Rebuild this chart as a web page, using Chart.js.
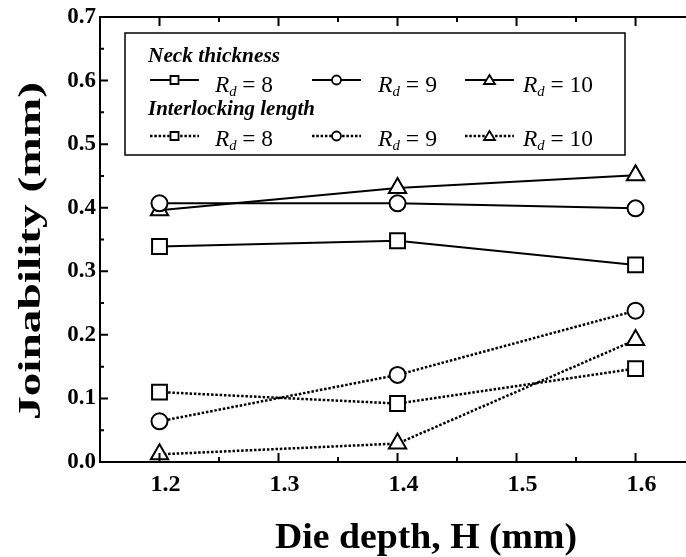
<!DOCTYPE html>
<html>
<head>
<meta charset="utf-8">
<script src="https://cdn.jsdelivr.net/npm/chart.js@4/dist/chart.umd.min.js"></script>
<style>
  html, body { margin: 0; padding: 0; background: #fff; }
  #wrap { width: 686px; height: 557px; }
</style>
</head>
<body>
<div id="wrap"><canvas id="chart" width="686" height="557"></canvas></div>
<script>
// ===== Joinability vs die depth =====

const depths = [1.2, 1.4, 1.6];
const neckRd8 = [0.339, 0.348, 0.310];
const neckRd9 = [0.407, 0.407, 0.399];
const neckRd10 = [0.396, 0.431, 0.451];
const interRd8 = [0.110, 0.092, 0.147];
const interRd9 = [0.064, 0.137, 0.238];
const interRd10 = [0.012, 0.029, 0.192];

const xTicks = [1.2, 1.3, 1.4, 1.5, 1.6];
const yTicks = [0.0, 0.1, 0.2, 0.3, 0.4, 0.5, 0.6, 0.7];
const rdLabels = ['8', '9', '10'];

const SERIF = "'Liberation Serif', 'Times New Roman', serif";
const DOTS = [2.5, 1.8];

function toPoints(values) {
    return depths.map((d, i) => ({ x: d, y: values[i] }));
}

function series(label, values, style, dashed) {
    return {
        label: label,
        data: toPoints(values),
        borderColor: '#000',
        borderWidth: dashed ? 2.5 : 2,
        borderDash: dashed ? DOTS : [],
        pointStyle: style,
        pointRadius: style === 'circle' ? 8 : (style === 'rect' ? 10.5 : 10),
        pointBorderWidth: 2,
        pointBackgroundColor: '#fff',
        pointBorderColor: '#000',
        tension: 0,
        fill: false
    };
}

// draw text squeezed/stretched to a given width
function fillFit(ctx, text, x, y, width) {
    const w = ctx.measureText(text).width;
    ctx.save();
    ctx.translate(x, y);
    ctx.scale(width / w, 1);
    ctx.fillText(text, 0, 0);
    ctx.restore();
}

function drawMarker(ctx, style, x, y) {
    ctx.save();
    ctx.beginPath();
    if (style === 'rect') {
        ctx.rect(x - 4, y - 4, 8, 8);
    } else if (style === 'circle') {
        ctx.arc(x, y, 4.5, 0, Math.PI * 2);
    } else {
        ctx.moveTo(x, y - 5);
        ctx.lineTo(x + 5.5, y + 4);
        ctx.lineTo(x - 5.5, y + 4);
        ctx.closePath();
    }
    ctx.fillStyle = '#fff';
    ctx.fill();
    ctx.setLineDash([]);
    ctx.lineWidth = 1.8;
    ctx.stroke();
    ctx.restore();
}

function drawRd(ctx, x, baseline, value, width) {
    ctx.save();
    ctx.fillStyle = '#000';
    ctx.translate(x, baseline);
    const parts = [
        { t: 'R', f: 'italic 24px ' + SERIF, dy: 0 },
        { t: 'd', f: 'italic 15px ' + SERIF, dy: 4 },
        { t: ' = ' + value, f: '24px ' + SERIF, dy: 0 }
    ];
    let total = 0;
    parts.forEach(p => { ctx.font = p.f; total += ctx.measureText(p.t).width; });
    ctx.scale(width / total, 1);
    let cx = 0;
    parts.forEach(p => {
        ctx.font = p.f;
        ctx.fillText(p.t, cx, p.dy);
        cx += ctx.measureText(p.t).width;
    });
    ctx.restore();
}

const decorPlugin = {
    id: 'decor',
    afterDraw(chart) {
        const ctx = chart.ctx;
        const xs = chart.scales.x;
        const ys = chart.scales.y;
        const area = chart.chartArea;
        ctx.save();
        ctx.strokeStyle = '#000';
        ctx.fillStyle = '#000';

        // top border
        ctx.lineWidth = 2;
        ctx.beginPath();
        ctx.moveTo(area.left, area.top);
        ctx.lineTo(area.right, area.top);
        ctx.stroke();

        // inward ticks
        ctx.lineWidth = 2;
        ctx.beginPath();
        yTicks.forEach((v, i) => {
            const py = ys.getPixelForValue(v);
            ctx.moveTo(area.left, py);
            ctx.lineTo(area.left + 8, py);
            if (i < yTicks.length - 1) {
                const my = ys.getPixelForValue((v + yTicks[i + 1]) / 2);
                ctx.moveTo(area.left, my);
                ctx.lineTo(area.left + 4, my);
            }
        });
        const xMinor = [];
        xTicks.forEach((v, i) => {
            if (i < xTicks.length - 1) xMinor.push((v + xTicks[i + 1]) / 2);
        });
        xTicks.forEach(v => {
            const px = xs.getPixelForValue(v);
            ctx.moveTo(px, area.bottom);
            ctx.lineTo(px, area.bottom - 9);
            ctx.moveTo(px, area.top);
            ctx.lineTo(px, area.top + 9);
        });
        xMinor.forEach(v => {
            const px = xs.getPixelForValue(v);
            ctx.moveTo(px, area.bottom);
            ctx.lineTo(px, area.bottom - 5);
            ctx.moveTo(px, area.top);
            ctx.lineTo(px, area.top + 5);
        });
        ctx.stroke();

        // axis titles
        ctx.font = 'bold 36px ' + SERIF;
        ctx.textAlign = 'left';
        ctx.textBaseline = 'alphabetic';
        fillFit(ctx, 'Die depth, H (mm)', 275, 548, 302);

        ctx.save();
        ctx.translate(40, 420);
        ctx.rotate(-Math.PI / 2);
        ctx.font = 'bold 32px ' + SERIF;
        fillFit(ctx, 'Joinability (mm)', 0, 0, 338);
        ctx.restore();

        // legend box
        ctx.lineWidth = 1.5;
        ctx.strokeRect(125, 33, 500, 122);

        ctx.font = 'bold italic 21px ' + SERIF;
        fillFit(ctx, 'Neck thickness', 148, 62, 132);
        fillFit(ctx, 'Interlocking length', 148, 115, 167);

        const styles = ['rect', 'circle', 'triangle'];
        const symX = [150, 312, 465];
        const textX = [215, 378, 523];
        const textW = [58, 59, 70];
        [{ y: 80, base: 92, dash: [], lw: 2 }, { y: 136, base: 146, dash: DOTS, lw: 2.5 }].forEach(row => {
            styles.forEach((st, i) => {
                ctx.save();
                ctx.lineWidth = row.lw;
                ctx.setLineDash(row.dash);
                ctx.beginPath();
                ctx.moveTo(symX[i], row.y);
                ctx.lineTo(symX[i] + 49, row.y);
                ctx.stroke();
                ctx.restore();
                drawMarker(ctx, st, symX[i] + 24.5, row.y);
                drawRd(ctx, textX[i], row.base, rdLabels[i], textW[i]);
            });
        });
        ctx.restore();
    }
};

const chart = new Chart(document.getElementById('chart'), {
    type: 'line',
    data: {
        datasets: [
            series('Neck thickness Rd = 8', neckRd8, 'rect', false),
            series('Neck thickness Rd = 9', neckRd9, 'circle', false),
            series('Neck thickness Rd = 10', neckRd10, 'triangle', false),
            series('Interlocking length Rd = 8', interRd8, 'rect', true),
            series('Interlocking length Rd = 9', interRd9, 'circle', true),
            series('Interlocking length Rd = 10', interRd10, 'triangle', true)
        ]
    },
    options: {
        responsive: false,
        animation: false,
        layout: { autoPadding: false, padding: { top: 17, right: 0, left: 0, bottom: 0 } },
        plugins: {
            legend: { display: false },
            tooltip: { enabled: false }
        },
        scales: {
            x: {
                type: 'linear',
                min: 1.15,
                max: 1.6424,
                afterBuildTicks: s => { s.ticks = xTicks.map(v => ({ value: v })); },
                afterFit: s => { s.height = 95; s.paddingLeft = 0; s.paddingRight = 0; },
                grid: { display: false, drawTicks: false },
                border: { display: true, color: '#000', width: 2 },
                ticks: {
                    color: '#000',
                    padding: 8,
                    labelOffset: 6,
                    maxRotation: 0,
                    font: { family: SERIF, size: 24, weight: 'bold' },
                    callback: v => v.toFixed(1)
                }
            },
            y: {
                min: 0,
                max: 0.7,
                afterBuildTicks: s => { s.ticks = yTicks.map(v => ({ value: v })); },
                afterFit: s => { s.width = 100; s.paddingTop = 0; s.paddingBottom = 0; },
                grid: { display: false, drawTicks: false },
                border: { display: true, color: '#000', width: 2 },
                ticks: {
                    color: '#000',
                    padding: 4,
                    font: { family: SERIF, size: 23, weight: 'bold' },
                    callback: v => v.toFixed(1)
                }
            }
        }
    },
    plugins: [decorPlugin]
});
</script>
</body>
</html>
